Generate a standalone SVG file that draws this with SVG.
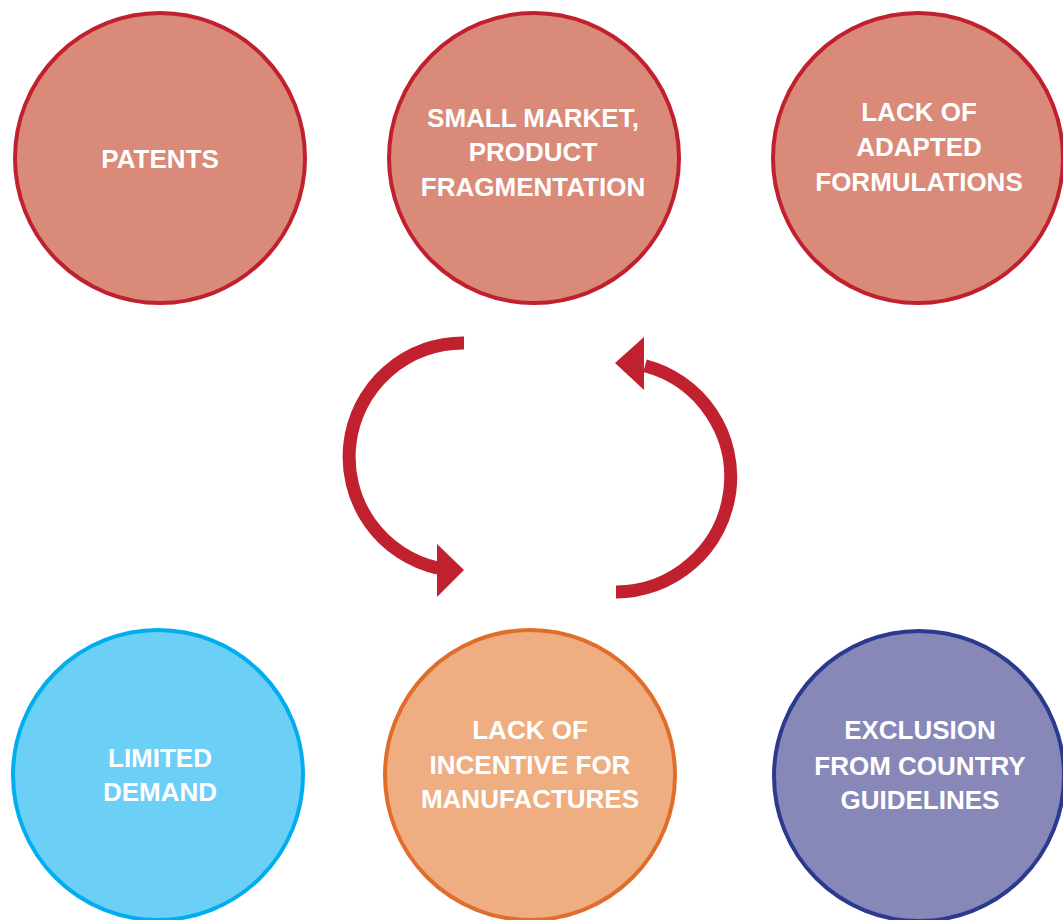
<svg xmlns="http://www.w3.org/2000/svg" width="1063" height="920" viewBox="0 0 1063 920">
  <style>
    .node { stroke-width: 4; }
    .red { fill: #DA8A78; stroke: #C1202F; }
    .blue { fill: #6CCFF6; stroke: #00AEEF; }
    .orange { fill: #EEAE81; stroke: #E06D2A; }
    .violet { fill: #8787B8; stroke: #2B3A8F; }
    .label { font-family: "Liberation Sans", Arial, sans-serif; font-weight: bold; font-size: 26px; fill: #FFFFFF; text-anchor: middle; }
    .cycle { fill: none; stroke: #C1202F; stroke-width: 13; stroke-linecap: butt; }
    .head { fill: #C1202F; }
  </style>
  <rect width="1063" height="920" fill="#FFFFFF"/>

  <g id="patents">
    <circle class="node red" cx="160" cy="158" r="145"/>
    <text class="label" x="160" y="168">PATENTS</text>
  </g>

  <g id="small-market">
    <circle class="node red" cx="534" cy="158" r="145"/>
    <text class="label" x="533" y="127">SMALL MARKET,</text>
    <text class="label" x="533" y="161">PRODUCT</text>
    <text class="label" x="533" y="196">FRAGMENTATION</text>
  </g>

  <g id="adapted-formulations">
    <circle class="node red" cx="918" cy="158" r="145"/>
    <text class="label" x="919" y="121">LACK OF</text>
    <text class="label" x="919" y="156">ADAPTED</text>
    <text class="label" x="919" y="191">FORMULATIONS</text>
  </g>

  <g id="limited-demand">
    <circle class="node blue" cx="158" cy="775" r="145"/>
    <text class="label" x="160" y="767">LIMITED</text>
    <text class="label" x="160" y="801">DEMAND</text>
  </g>

  <g id="manufacturer-incentive">
    <circle class="node orange" cx="530" cy="775" r="145"/>
    <text class="label" x="530" y="739">LACK OF</text>
    <text class="label" x="530" y="774">INCENTIVE FOR</text>
    <text class="label" x="530" y="808">MANUFACTURES</text>
  </g>

  <g id="country-guidelines">
    <circle class="node violet" cx="919" cy="776" r="145"/>
    <text class="label" x="920" y="739">EXCLUSION</text>
    <text class="label" x="920" y="775">FROM COUNTRY</text>
    <text class="label" x="920" y="809">GUIDELINES</text>
  </g>

  <g id="connectors">
    <!-- left loop: down from the market circle to the incentive circle -->
    <path class="cycle" d="M 464 343 A 114 114 0 0 0 438 568.2"/>
    <polygon class="head" points="437,544 464,570 437,597"/>
    <!-- right loop: back up from the incentive circle -->
    <path class="cycle" d="M 616 592 A 115 115 0 0 0 645 365.8"/>
    <polygon class="head" points="644,337 615,363 644,390"/>
  </g>
</svg>
